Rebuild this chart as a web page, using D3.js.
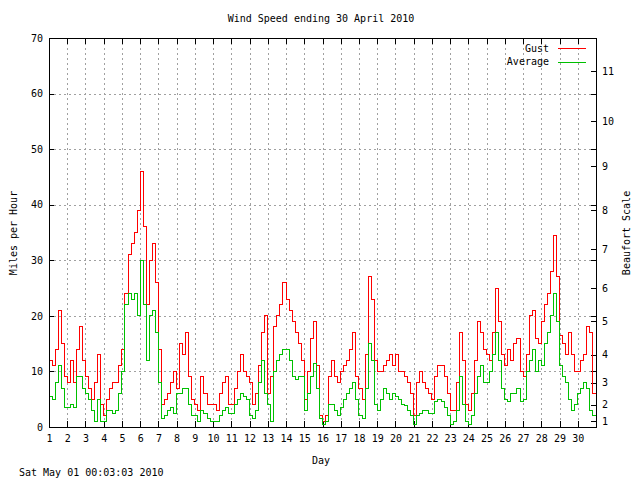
<!DOCTYPE html>
<html>
<head>
<meta charset="utf-8">
<script src="https://cdn.jsdelivr.net/npm/d3@7"></script>
<style>
body { margin: 0; background: #fff; }
text { font-family: "DejaVu Sans Mono", monospace; font-size: 10px; fill: #000; }
</style>
</head>
<body>
<div id="chart"></div>
<script>
// readings every 4 hours, 1 April to 30 April 2010 (mph)
let gust = [
    12, 11, 14, 21, 15, 9,
    8, 12, 8, 14, 18, 12,
    9, 7, 5, 8, 13, 4,
    2, 5, 7, 8, 8, 11,
    14, 24, 31, 33, 35, 39,
    46, 36, 22, 30, 33, 26,
    14, 4, 5, 6, 8, 10,
    7, 15, 13, 17, 9, 5,
    4, 3, 9, 6, 4, 4,
    4, 3, 6, 8, 9, 4,
    4, 7, 10, 13, 10, 9,
    8, 4, 6, 11, 17, 20,
    6, 9, 18, 20, 22, 26,
    23, 21, 19, 17, 15, 12,
    5, 10, 16, 19, 11, 2,
    1, 2, 9, 12, 9, 8,
    10, 11, 12, 14, 17, 9,
    7, 5, 13, 27, 23, 12,
    10, 10, 11, 12, 13, 11,
    13, 10, 10, 9, 8, 6,
    2, 8, 10, 8, 7, 6,
    5, 9, 11, 11, 9, 6,
    3, 3, 8, 17, 12, 4,
    3, 6, 12, 19, 17, 14,
    13, 12, 17, 25, 19, 13,
    11, 14, 12, 15, 16, 10,
    9, 13, 20, 21, 16, 15,
    19, 22, 24, 28, 34.5, 27,
    16.5, 15, 13, 17, 13, 10,
    10, 12, 13, 18, 17, 6
]
let average = [
    5.5, 5, 8, 11, 7, 3.5,
    3.5, 4, 3.5, 9, 9, 7,
    6, 5, 3, 1, 5, 1,
    1, 3, 3, 2.5, 3, 6,
    10, 22, 24, 23, 24, 20,
    30, 22, 12, 20, 21, 17,
    8, 1.5, 2, 3, 3.5, 2.5,
    6, 6, 7, 7, 4, 2,
    2, 1, 3, 2.5, 1.5, 1,
    1, 1, 2, 3, 3.5, 2.5,
    2.5, 4, 5, 6, 5.5, 5,
    2, 1.5, 3, 8, 12, 6,
    4, 1, 10, 12, 13, 14,
    14, 12, 9, 8.5, 9, 9,
    3, 6, 9, 11.5, 7, 1.5,
    0.5, 1, 4, 4, 3, 2,
    3.5, 5, 6, 7, 8, 5,
    2, 1.5, 7, 15, 12, 4,
    3, 5, 7, 6, 5, 6,
    5.5, 5, 4, 3.8, 3, 2,
    0.5, 2, 2.5, 3, 3, 2.5,
    2.5, 4.5, 5, 4.5, 3.5, 2,
    0.5, 1, 3, 9, 4, 1,
    0.5, 2, 6, 9, 11, 8,
    8, 10, 13, 17, 12, 7,
    5, 4.5, 6, 6, 7, 4.5,
    5, 10, 12, 14, 10, 12,
    11, 15, 17, 20, 24, 19,
    11, 9, 8, 5, 3, 4,
    6, 7, 8, 7, 3, 2
]
let samplesPerDay = 6
let dayTicks = d3.range(1, 31)
let mphTicks = [0, 10, 20, 30, 40, 50, 60, 70]
// Beaufort force and the lowest wind speed (mph) of each force
let beaufortForce = [1, 2, 3, 4, 5, 6, 7, 8, 9, 10, 11]
let beaufortMph = [1, 4, 8, 13, 19, 25, 32, 39, 47, 55, 64]

let width = 640, height = 480
let margin = {top: 38, right: 44, bottom: 53, left: 49}
let w = width - margin.left - margin.right,
    h = height - margin.top - margin.bottom

let svg = d3.select('#chart')
            .append('svg')
                .attr('width', width)
                .attr('height', height)

svg.append('rect').attr('width', width).attr('height', height).attr('fill', '#fff')

let g = svg.append('g').attr('transform', `translate(${margin.left},${margin.top})`)

let x = d3.scaleLinear().domain([1, 31]).range([0, w])
let y = d3.scaleLinear().domain([0, 70]).range([h, 0])

// dotted grid
let grid = g.append('g').attr('stroke', '#a0a0a0').attr('stroke-dasharray', '2,3')
grid.selectAll('.gx')
    .data(dayTicks.slice(1))
    .enter()
    .append('line')
    .attr('x1', d => Math.round(x(d)) + 0.5).attr('x2', d => Math.round(x(d)) + 0.5)
    .attr('y1', 0).attr('y2', h)
grid.selectAll('.gy')
    .data(mphTicks.slice(1, -1))
    .enter()
    .append('line')
    .attr('y1', d => Math.round(y(d)) + 0.5).attr('y2', d => Math.round(y(d)) + 0.5)
    .attr('x1', 0).attr('x2', w)

// axes, ticks pointing inwards like gnuplot
function tidy(sel) {
    sel.select('.domain').remove()
    sel.selectAll('line').attr('stroke', '#000')
    sel.attr('shape-rendering', 'crispEdges')
}
g.append('g').attr('transform', `translate(0,${h})`)
    .call(d3.axisBottom(x).tickValues(dayTicks).tickSize(-6).tickPadding(8).tickFormat(d3.format('d')))
    .call(tidy)
g.append('g')
    .call(d3.axisTop(x).tickValues(dayTicks).tickSize(-6).tickFormat(''))
    .call(tidy)
g.append('g')
    .call(d3.axisLeft(y).tickValues(mphTicks).tickSize(-5).tickPadding(6))
    .call(tidy)
g.append('g').attr('transform', `translate(${w},0)`)
    .call(d3.axisRight(y).tickValues(mphTicks).tickSize(-5).tickFormat(''))
    .call(tidy)
g.append('g').attr('transform', `translate(${w},0)`)
    .call(d3.axisRight(y).tickValues(beaufortMph).tickSize(-5).tickPadding(6)
        .tickFormat((d, i) => beaufortForce[i]))
    .call(tidy)

// series
let line = d3.line()
    .x(d => x(d[0]))
    .y(d => y(d[1]))
    .curve(d3.curveStepAfter)
function points(values) {
    let pts = values.map((v, i) => [1 + i / samplesPerDay, v])
    pts.push([31, values[values.length - 1]])
    return pts
}
g.append('path')
    .attr('d', line(points(gust)))
    .attr('fill', 'none').attr('stroke', '#ff0000').attr('stroke-width', 1)
    .attr('shape-rendering', 'crispEdges')
g.append('path')
    .attr('d', line(points(average)))
    .attr('fill', 'none').attr('stroke', '#00c000').attr('stroke-width', 1)
    .attr('shape-rendering', 'crispEdges')

// border
g.append('rect')
    .attr('x', 0.5).attr('y', 0.5).attr('width', w).attr('height', h)
    .attr('fill', 'none').attr('stroke', '#000').attr('shape-rendering', 'crispEdges')

// legend
let legend = [['Gust', '#ff0000'], ['Average', '#00c000']]
legend.forEach((l, i) => {
    let ly = 10 + i * 13.5
    g.append('text').attr('x', 500).attr('y', ly).attr('dy', '0.35em')
        .attr('text-anchor', 'end').text(l[0])
    g.append('line').attr('x1', 509).attr('x2', 537).attr('y1', ly + 0.5).attr('y2', ly + 0.5)
        .attr('stroke', l[1]).attr('shape-rendering', 'crispEdges')
})

// titles
svg.append('text').attr('x', 321).attr('y', 22).attr('text-anchor', 'middle')
    .text('Wind Speed ending 30 April 2010')
svg.append('text').attr('x', 321).attr('y', 464).attr('text-anchor', 'middle').text('Day')
svg.append('text').attr('x', 19).attr('y', 476).text('Sat May 01 00:03:03 2010')
svg.append('text').attr('transform', 'translate(17,233) rotate(-90)')
    .attr('text-anchor', 'middle').text('Miles per Hour')
svg.append('text').attr('transform', 'translate(630,233) rotate(-90)')
    .attr('text-anchor', 'middle').text('Beaufort Scale')
</script>
</body>
</html>
